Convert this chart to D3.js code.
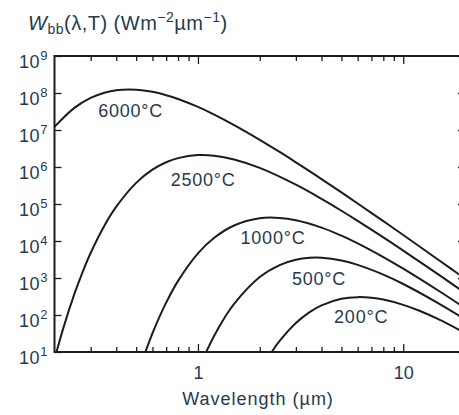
<!DOCTYPE html>
<html>
<head>
<meta charset="utf-8">
<script src="https://cdn.jsdelivr.net/npm/d3@7"></script>
<style>
  body { margin: 0; background: #fff; }
  text { font-family: "Liberation Sans", Arial, sans-serif; fill: #263a4e; }
</style>
</head>
<body>
<div id="chart"></div>
<script>
// spectral emittance curves (W m^-2 um^-1)
var curveNames = ["6000°C", "2500°C", "1000°C", "500°C", "200°C"];

var wl6000 = [0.2, 0.25, 0.3, 0.35, 0.4, 0.5, 0.6, 0.7, 0.8, 1, 1.2, 1.5, 2, 2.5, 3, 4, 5, 6, 8, 10, 15, 20];
var w6000 = [1.22e7, 3.97e7, 7.37e7, 1.02e8, 1.19e8, 1.23e8, 1.08e8, 8.73e7, 6.89e7, 4.20e7, 2.61e7, 1.36e7, 5.44e6, 2.55e6, 1.34e6, 4.72e5, 2.06e5, 1.03e5, 3.44e4, 1.45e4, 2980, 962];

var wl2500 = [0.2, 0.22, 0.25, 0.275, 0.3, 0.35, 0.4, 0.5, 0.6, 0.7, 0.8, 1, 1.2, 1.5, 2, 3, 4, 5, 6, 8, 10, 15, 20];
var w2500 = [6.3, 41.5, 372, 1521, 4750, 2.60e4, 8.50e4, 3.73e5, 8.45e5, 1.345e6, 1.74e6, 2.10e6, 2.02e6, 1.60e6, 9.44e5, 3.32e5, 1.374e5, 6.57e4, 3.50e4, 1.25e4, 5500, 1192, 395];

var wl1000 = [0.55, 0.6, 0.65, 0.7, 0.8, 1, 1.2, 1.5, 2, 2.5, 3, 4, 5, 6, 8, 10, 15, 20];
var w1000 = [8.84, 31.7, 90.6, 216, 835, 4620, 1.22e4, 2.63e4, 4.12e4, 4.21e4, 3.64e4, 2.30e4, 1.39e4, 8630, 3675, 1785, 438, 154];

var wl500 = [1.1, 1.2, 1.35, 1.5, 2, 2.5, 3, 3.5, 4, 5, 6, 8, 10, 15, 20];
var w500 = [10.4, 27.6, 85.8, 201, 1062, 2240, 3118, 3510, 3516, 2966, 2264, 1235, 689, 200, 76.1];

var wl200 = [2.3, 2.5, 3, 3.5, 4, 5, 6, 7, 8, 10, 12, 15, 20];
var w200 = [10.5, 19.9, 60.8, 120, 182, 274, 304, 292, 261, 188, 130, 74.7, 32.7];

// where each curve label sits (wavelength, emittance)
var labelWl = [0.47, 1.06, 2.32, 3.89, 6.24];
var labelW = [3.4e7, 4.5e5, 1.2e4, 930, 89];

var xMajor = [1, 10];
var xMinor = [0.3, 0.4, 0.5, 0.6, 0.7, 0.8, 0.9, 2, 3, 4, 5, 6, 7, 8, 9, 20];
var yDecades = [1, 2, 3, 4, 5, 6, 7, 8, 9];

var width = 459,
    height = 415;
var plotLeft = 54.5, plotRight = 465, plotTop = 56, plotBottom = 352;

var x = d3.scaleLog().domain([0.2, 20]).range([plotLeft, plotRight]);
var y = d3.scaleLog().domain([10, 1e9]).range([plotBottom, plotTop]);

var svg = d3.select("#chart")
    .append("svg")
    .attr("width", width)
    .attr("height", height);

svg.append("defs").append("clipPath")
    .attr("id", "plot-clip")
    .append("rect")
    .attr("x", plotLeft)
    .attr("y", plotTop)
    .attr("width", plotRight - plotLeft)
    .attr("height", plotBottom - plotTop);

var series = [
    {wl: wl6000, w: w6000},
    {wl: wl2500, w: w2500},
    {wl: wl1000, w: w1000},
    {wl: wl500, w: w500},
    {wl: wl200, w: w200}
];

var line = d3.line()
    .x(function(d) { return x(d[0]) })
    .y(function(d) { return y(d[1]) })
    .curve(d3.curveCatmullRom.alpha(0.5));

svg.append("g")
    .attr("clip-path", "url(#plot-clip)")
    .selectAll("path")
    .data(series)
    .enter().append("path")
    .attr("d", function(s) { return line(d3.zip(s.wl, s.w)) })
    .attr("fill", "none")
    .attr("stroke", "#1c1c1c")
    .attr("stroke-width", 2);

// ticks pointing inward on all four sides
function noDomain(g) { g.select(".domain").remove(); g.selectAll(".tick line").attr("stroke", "#1c1c1c").attr("stroke-width", 1.3) }

svg.append("g")
    .attr("transform", "translate(0," + plotBottom + ")")
    .call(d3.axisBottom(x).tickValues(xMajor).tickSize(-8).tickPadding(14).tickFormat(d3.format("d")))
    .call(noDomain)
    .selectAll("text")
    .attr("font-size", 18)
    .attr("font-family", "Liberation Sans, Arial, sans-serif")
    .style("fill", "#263a4e");
svg.append("g")
    .attr("transform", "translate(0," + plotBottom + ")")
    .call(d3.axisBottom(x).tickValues(xMinor).tickSize(-5).tickFormat(""))
    .call(noDomain);
svg.append("g")
    .attr("transform", "translate(0," + plotTop + ")")
    .call(d3.axisTop(x).tickValues(xMajor).tickSize(-8).tickFormat(""))
    .call(noDomain);
svg.append("g")
    .attr("transform", "translate(0," + plotTop + ")")
    .call(d3.axisTop(x).tickValues(xMinor).tickSize(-5).tickFormat(""))
    .call(noDomain);

var yTicks = yDecades.map(function(e) { return Math.pow(10, e) });
svg.append("g")
    .attr("transform", "translate(" + plotLeft + ",0)")
    .call(d3.axisLeft(y).tickValues(yTicks).tickSize(-7).tickFormat(""))
    .call(noDomain);
svg.append("g")
    .attr("transform", "translate(" + plotRight + ",0)")
    .call(d3.axisRight(y).tickValues(yTicks).tickSize(-7).tickFormat(""))
    .call(noDomain);

// y labels 10^n
var yl = svg.append("g").selectAll("text")
    .data(yDecades)
    .enter().append("text")
    .attr("x", 48)
    .attr("y", function(e) { return y(Math.pow(10, e)) + 12 })
    .attr("text-anchor", "end")
    .attr("font-size", 18)
    .attr("letter-spacing", 0.6);
yl.append("tspan").text("10");
yl.append("tspan").attr("font-size", 13).attr("dy", -8).text(function(e) { return e });

// frame
svg.append("rect")
    .attr("x", plotLeft)
    .attr("y", plotTop)
    .attr("width", plotRight - plotLeft)
    .attr("height", plotBottom - plotTop)
    .attr("fill", "none")
    .attr("stroke", "#1c1c1c")
    .attr("stroke-width", 2);

// curve labels
svg.append("g").selectAll("text")
    .data(curveNames)
    .enter().append("text")
    .attr("x", function(d, i) { return x(labelWl[i]) })
    .attr("y", function(d, i) { return y(labelW[i]) })
    .attr("dy", "0.35em")
    .attr("text-anchor", "middle")
    .attr("font-size", 18)
    .attr("letter-spacing", 0.8)
    .text(function(d) { return d });

// axis title
svg.append("text")
    .attr("x", 258)
    .attr("y", 405)
    .attr("text-anchor", "middle")
    .attr("font-size", 18)
    .attr("letter-spacing", 1)
    .text("Wavelength (µm)");

// y title
var t = svg.append("text")
    .attr("x", 28)
    .attr("y", 30)
    .attr("font-size", 20)
    .attr("letter-spacing", 0.5);
t.append("tspan").attr("font-style", "italic").text("W");
t.append("tspan").attr("font-size", 14).attr("dy", 4).text("bb");
t.append("tspan").attr("dy", -4).text("(λ,T) (Wm");
t.append("tspan").attr("font-size", 14).attr("dy", -8).text("−2");
t.append("tspan").attr("dy", 8).text("µm");
t.append("tspan").attr("font-size", 14).attr("dy", -8).text("−1");
t.append("tspan").attr("dy", 8).text(")");
</script>
</body>
</html>
